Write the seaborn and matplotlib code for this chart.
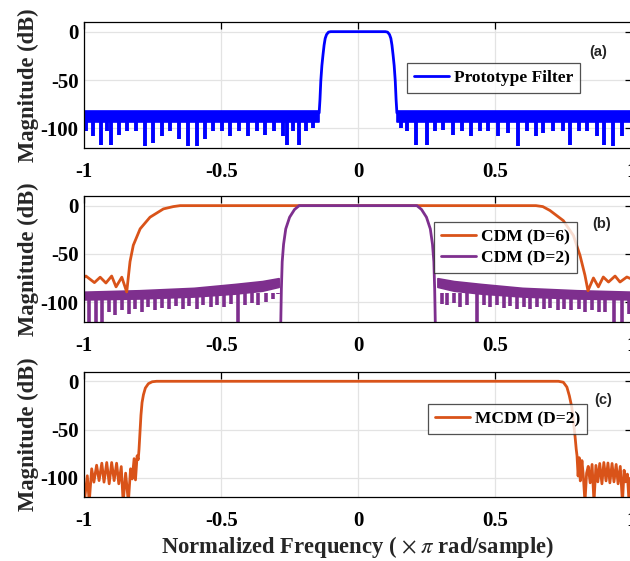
import numpy as np
import pandas as pd
import matplotlib
matplotlib.use("Agg")
import matplotlib.pyplot as plt
import seaborn as sns

sns.set_theme(style="white")
plt.rcParams["font.family"] = ["Liberation Serif", "DejaVu Serif"]
plt.rcParams["mathtext.fontset"] = "stix"

BLUE = "#0000FF"
ORANGE = "#D95319"
PURPLE = "#7E2F8E"

# ---------------- (a) prototype filter ----------------
proto_x = [-0.142, -0.139, -0.136, -0.132, -0.128, -0.124, -0.120, -0.115, -0.108, -0.100,
           0.0, 0.100, 0.108, 0.115, 0.120, 0.124, 0.128, 0.132, 0.136, 0.139, 0.142]
proto_db = [-84, -70, -51, -35, -24, -14, -7, -3, -0.5, 0,
            0, 0, -0.5, -3, -7, -14, -24, -35, -51, -70, -84]
proto_band_x = [-1.0, -0.142, 0.142, 1.0]
proto_band_top = [-82, -82, -82, -82]
proto_band_bot = [-93, -93, -93, -93]
proto_spike_x = [-0.995, -0.969, -0.939, -0.918, -0.904, -0.872, -0.845, -0.811, -0.779, -0.748,
                 -0.715, -0.687, -0.653, -0.620, -0.589, -0.558, -0.529, -0.498, -0.468, -0.434,
                 -0.401, -0.370, -0.339, -0.307, -0.275, -0.261, -0.236, -0.214, -0.190, -0.163,
                 0.156, 0.178, 0.212, 0.251, 0.281, 0.312, 0.346, 0.379, 0.412, 0.446,
                 0.476, 0.513, 0.549, 0.586, 0.616, 0.650, 0.677, 0.714, 0.750, 0.775,
                 0.809, 0.836, 0.872, 0.900, 0.933, 0.963]
proto_spike_db = [-103, -108, -117.5, -103, -117, -106.5, -103, -103, -118, -115,
                  -107.5, -103, -111.5, -118.5, -118.5, -111.5, -103, -103, -108, -103,
                  -108, -103, -106.5, -103, -108, -117, -103, -117, -103, -99.6,
                  -100, -103, -117, -117, -103, -101.5, -106.5, -103, -108, -103,
                  -103, -108, -104.7, -118.5, -103, -108, -104.7, -103, -103, -117,
                  -103, -103, -108, -117, -118.5, -108]

# ---------------- (b) CDM ----------------
cdm6_x = [-1.0, -0.994, -0.963, -0.942, -0.921, -0.900, -0.884, -0.863, -0.845,
          -0.833, -0.821, -0.796, -0.760, -0.711, -0.675, -0.650,
          0.650, 0.675, 0.701, 0.750, 0.787, 0.811, 0.829, 0.840,
          0.860, 0.878, 0.896, 0.915, 0.939, 0.957, 0.982, 1.0]
cdm6_db = [-74, -72.8, -79.6, -74, -80, -72.8, -84, -74, -89.3,
           -58, -41, -24, -12, -3.4, -1, 0,
           0, -1, -5, -15.5, -31, -51.5, -72, -88,
           -74.8, -84, -73.8, -79, -72.8, -79, -73.8, -76]

cdm2_x = [-0.2825, -0.280, -0.277, -0.272, -0.264, -0.250, -0.232, -0.215,
          0.0, 0.215, 0.232, 0.250, 0.264, 0.272, 0.277, 0.280, 0.2825]
cdm2_db = [-125, -86, -58, -40, -24, -12, -4, 0,
           0, 0, -4, -12, -24, -40, -58, -86, -125]
cdm2_band_left_x = [-1.0, -0.8, -0.6, -0.45, -0.35, -0.29]
cdm2_band_left_top = [-89, -87.5, -85, -81, -78, -75]
cdm2_band_left_bot = [-97, -96, -94, -91, -88, -84]
cdm2_band_right_x = [0.29, 0.35, 0.45, 0.6, 0.8, 1.0]
cdm2_band_right_top = [-75, -78, -81, -85, -87.5, -89]
cdm2_band_right_bot = [-84, -88, -91, -94, -96, -97]
cdm2_spike_x = [-0.981, -0.958, -0.934, -0.910, -0.886, -0.862, -0.838, -0.814, -0.790, -0.766,
                -0.742, -0.715, -0.690, -0.666, -0.641, -0.616, -0.589, -0.565, -0.538, -0.514,
                -0.490, -0.464, -0.438, -0.413, -0.389, -0.364, -0.337, -0.311, -0.291,
                0.307, 0.325, 0.349, 0.374, 0.398, 0.435, 0.459, 0.483, 0.508, 0.532,
                0.556, 0.581, 0.605, 0.630, 0.654, 0.678, 0.703, 0.729, 0.754, 0.778,
                0.806, 0.830, 0.855, 0.879, 0.904, 0.934, 0.965, 0.989]
cdm2_spike_db = [-125, -125, -125, -110, -113.4, -108.3, -111.6, -106.5, -110, -104.8,
                 -108.3, -105.8, -107.2, -103.7, -107.2, -103.7, -106.5, -102.4, -104.8, -102.4,
                 -104.8, -101.3, -125, -103, -100.3, -102.4, -99.6, -96.2, -91,
                 -101.3, -103, -100.3, -104.8, -102.4, -125, -103, -104.8, -103, -105.8,
                 -103.7, -106.5, -104.8, -107.2, -104.8, -107.2, -105.8, -108.3, -106.5, -108.3,
                 -107.2, -109.5, -108.3, -110, -109.5, -125, -125, -111.6]

# ---------------- (c) MCDM ----------------
mcdm_x = [-1.0, -0.989, -0.982, -0.973, -0.965, -0.955, -0.946, -0.936, -0.928, -0.918,
          -0.909, -0.900, -0.891, -0.882, -0.874, -0.865, -0.858, -0.849, -0.839, -0.831,
          -0.825, -0.818, -0.813, -0.807, -0.803, -0.800, -0.797, -0.793, -0.789, -0.784,
          -0.777, -0.766, -0.752, -0.736,
          0.732, 0.750, 0.763, 0.772, 0.781, 0.787, 0.793, 0.797, 0.800,
          0.804, 0.808, 0.812, 0.818, 0.823, 0.829, 0.835, 0.841, 0.848, 0.855,
          0.862, 0.869, 0.876, 0.883, 0.891, 0.898, 0.906, 0.913, 0.920, 0.928,
          0.935, 0.943, 0.950, 0.958, 0.966, 0.972, 0.977, 0.984, 0.990, 0.995, 1.0]
mcdm_db = [-125, -97.7, -125, -90.5, -104.3, -86.8, -102.7, -84.7, -104.3, -84,
           -106, -84, -102.7, -84.7, -106, -88.2, -125, -95, -125, -90.5,
           -101, -80, -102, -77, -81, -70, -55, -35, -22, -14,
           -7, -2.5, -0.5, 0,
           0, -1, -6, -15, -27, -42, -57.5, -70, -77,
           -98, -79, -103, -82, -98, -125, -95, -88, -105, -86,
           -125, -87, -104, -85, -106, -84, -103, -84.5, -105, -85,
           -104, -86, -106, -88, -125, -92, -104, -96, -125, -100, -108]

# ---------------- layout ----------------
fig = plt.figure(figsize=(6.3, 5.61), dpi=100)
L, W, H = 0.1338, 0.869, 0.2241
ax_a = fig.add_axes([L, 0.7367, W, H])
ax_b = fig.add_axes([L, 0.4266, W, H])
ax_c = fig.add_axes([L, 0.1135, W, H])

LW = 2.0
TICK_FS = 15
LAB_FS = 16.3
LEG_FS = 12.5

# (a)
sns.lineplot(x=proto_x, y=proto_db, ax=ax_a, color=BLUE, lw=LW, sort=False,
             estimator=None, label="Prototype Filter")
ax_a.fill_between(proto_band_x[:2], proto_band_top[:2], proto_band_bot[:2], color=BLUE, lw=1.2,
                  edgecolor=BLUE)
ax_a.fill_between(proto_band_x[2:], proto_band_top[2:], proto_band_bot[2:], color=BLUE, lw=1.2,
                  edgecolor=BLUE)
ax_a.vlines(proto_spike_x, -90, proto_spike_db, color=BLUE, lw=2.8)

# (b)
sns.lineplot(x=cdm6_x, y=cdm6_db, ax=ax_b, color=ORANGE, lw=LW, sort=False,
             estimator=None, label="CDM (D=6)")
sns.lineplot(x=cdm2_x, y=cdm2_db, ax=ax_b, color=PURPLE, lw=LW, sort=False,
             estimator=None, label="CDM (D=2)")
ax_b.fill_between(cdm2_band_left_x, cdm2_band_left_top, cdm2_band_left_bot, color=PURPLE,
                  lw=1.2, edgecolor=PURPLE)
ax_b.fill_between(cdm2_band_right_x, cdm2_band_right_top, cdm2_band_right_bot, color=PURPLE,
                  lw=1.2, edgecolor=PURPLE)
ax_b.vlines(cdm2_spike_x, -90, cdm2_spike_db, color=PURPLE, lw=2.6)

# (c)
sns.lineplot(x=mcdm_x, y=mcdm_db, ax=ax_c, color=ORANGE, lw=LW, sort=False,
             estimator=None, label="MCDM (D=2)")

legend_locs = {ax_a: (0.5895, 0.674), ax_b: (0.639, 0.792), ax_c: (0.628, 0.742)}
for ax, tag, tagxy in [(ax_a, "(a)", (0.938, 0.764)), (ax_b, "(b)", (0.945, 0.774)),
                       (ax_c, "(c)", (0.948, 0.774))]:
    ax.set_xlim(-1, 1)
    ax.set_ylim(-120, 10)
    ax.set_xticks([-1, -0.5, 0, 0.5, 1])
    ax.set_xticklabels(["-1", "-0.5", "0", "0.5", "1"])
    ax.set_yticks([-100, -50, 0])
    ax.set_yticklabels(["-100", "-50", "0"])
    ax.grid(True, color="#e3e3e3", lw=0.9)
    ax.set_axisbelow(True)
    ax.tick_params(direction="in", length=5, width=0.9, top=True, right=True,
                   labelsize=TICK_FS, pad=4, colors="black")
    ax.tick_params(axis="x", pad=10)
    for lab in ax.get_xticklabels() + ax.get_yticklabels():
        lab.set_fontweight("bold")
    for s in ax.spines.values():
        s.set_color("black")
        s.set_linewidth(0.9)
    ax.set_ylabel("Magnitude (dB)", fontsize=LAB_FS, fontweight="bold", labelpad=1)
    ax.set_xlabel("")
    ax.text(tagxy[0], tagxy[1], tag, transform=ax.transAxes, ha="center", va="center",
            fontsize=10.5, fontweight="bold", family="Liberation Sans")
    leg = ax.legend(loc="upper left", bbox_to_anchor=legend_locs[ax], frameon=True,
                    prop={"weight": "bold", "size": LEG_FS}, fancybox=False,
                    borderpad=0.4, handlelength=2.0, handletextpad=0.3, labelspacing=0.3,
                    borderaxespad=0, handleheight=0.6)
    leg.get_frame().set_edgecolor("#262626")
    leg.get_frame().set_linewidth(0.9)
    for t in leg.get_texts():
        t.set_color("black")

ax_c.set_xlabel(r"Normalized Frequency ( $\times\;\pi$ rad/sample)", fontsize=LAB_FS,
                fontweight="bold", labelpad=2)

fig.savefig("out.png", dpi=100)
